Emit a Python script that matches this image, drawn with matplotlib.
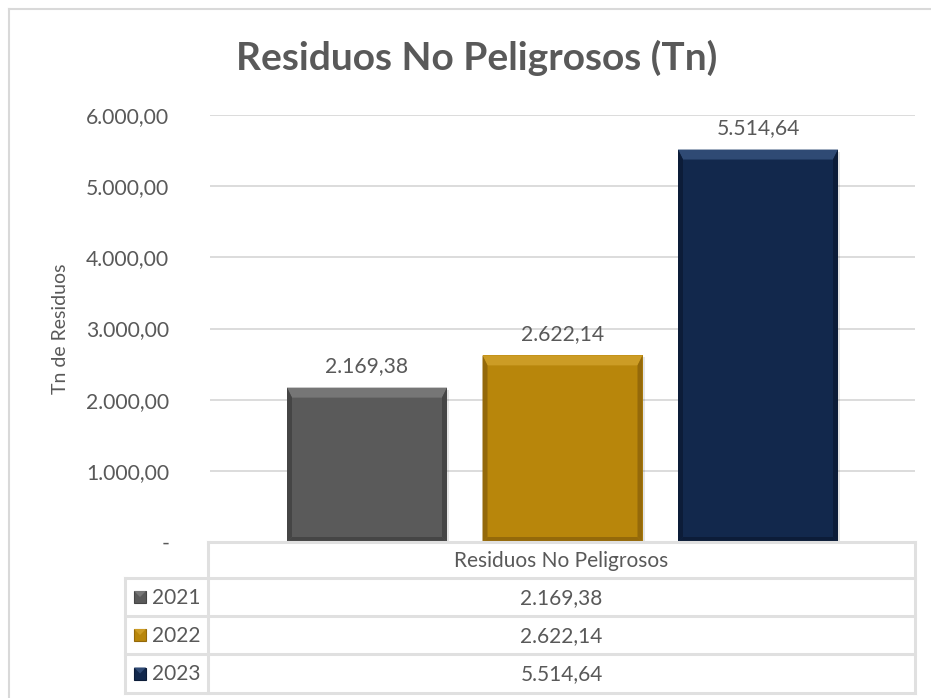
import numpy as np
import matplotlib.pyplot as plt
from matplotlib.patches import Polygon, Rectangle

plt.rcParams['font.family'] = ['Lato', 'DejaVu Sans']

title = 'Residuos No Peligrosos (Tn)'
category = 'Residuos No Peligrosos'
years = ['2021', '2022', '2023']
values = [2169.38, 2622.14, 5514.64]
yticks = [0, 1000, 2000, 3000, 4000, 5000, 6000]

face = ['#5a5a5a', '#b8860b', '#12284c']
light = ['#767676', '#cc9c25', '#2f4a74']
dark = ['#454545', '#94690a', '#0c1c38']

TEXT = '#595959'
GRID = '#d9d9d9'
W, H = 931, 698


def fmt(v, dec=2):
    s = f'{v:,.{dec}f}'
    return s.replace(',', 'X').replace('.', ',').replace('X', '.')


fig = plt.figure(figsize=(W / 100, H / 100), dpi=100, facecolor='white')

# full-figure overlay in pixel units for frame, table and bevels
ov = fig.add_axes([0, 0, 1, 1], zorder=3)
ov.set_xlim(0, W)
ov.set_ylim(H, 0)
ov.axis('off')
ov.patch.set_alpha(0)

left, right, top, bottom = 210, 915, 115, 542
ax = fig.add_axes([left / W, 1 - bottom / H, (right - left) / W, (bottom - top) / H])
ax.set_ylim(0, 6000)
ax.set_xlim(-0.5, 0.5)
ax.set_yticks(yticks)
ax.set_yticklabels(['-' if t == 0 else fmt(t) for t in yticks], color=TEXT, fontsize=15.2)
ax.tick_params(axis='y', length=0, pad=29.5)
ax.set_xticks([])
for s in ax.spines.values():
    s.set_visible(False)
ax.grid(axis='y', color=GRID, linewidth=1.3)
ax.set_axisbelow(True)
ax.set_ylabel('Tn de Residuos', color=TEXT, fontsize=14)
ax.yaxis.set_label_coords(-141 / (right - left), 0.5)

bar_w = 160 / (right - left)
step = 195.5 / (right - left)
xs = (np.arange(len(values)) - 1) * step
bars = ax.bar(xs, values, width=bar_w, color=face, zorder=2)

to_px = ax.transData + ov.transData.inverted()
bev_top, bev_side = 10, 5
for i, b in enumerate(bars):
    (x0, y0), (x1, y1) = to_px.transform([(b.get_x(), 0), (b.get_x() + b.get_width(), b.get_height())])
    # soft shadow to the right and below
    ov.add_patch(Rectangle((x0 + 2, y1 + 2), x1 - x0, y0 - y1, facecolor='black', alpha=0.10,
                           edgecolor='none', zorder=0.5))
    ov.add_patch(Rectangle((x0, y1), x1 - x0, y0 - y1, facecolor=face[i], edgecolor='none', zorder=1))
    # y1 is the top edge in pixel coords (smaller), y0 is the baseline
    ov.add_patch(Polygon([(x0, y1), (x1, y1), (x1 - bev_side, y1 + bev_top), (x0 + bev_side, y1 + bev_top)],
                         closed=True, facecolor=light[i], edgecolor='none', zorder=2))
    ov.add_patch(Polygon([(x0, y1), (x0 + bev_side, y1 + bev_top), (x0 + bev_side, y0 - bev_side), (x0, y0)],
                         closed=True, facecolor=dark[i], edgecolor='none', zorder=2))
    ov.add_patch(Polygon([(x1, y1), (x1 - bev_side, y1 + bev_top), (x1 - bev_side, y0 - bev_side), (x1, y0)],
                         closed=True, facecolor=dark[i], edgecolor='none', zorder=2))
    ov.add_patch(Polygon([(x0, y0), (x0 + bev_side, y0 - bev_side), (x1 - bev_side, y0 - bev_side), (x1, y0)],
                         closed=True, facecolor=dark[i], edgecolor='none', zorder=2))
    ax.annotate(fmt(values[i]), (b.get_x() + b.get_width() / 2, b.get_height()),
                xytext=(0, 8), textcoords='offset points', ha='center', va='bottom',
                color=TEXT, fontsize=15.2)

fig.text(477 / W, 1 - 58 / H, title, ha='center', va='center', fontsize=28,
         fontweight='bold', color=TEXT)

# chart frame
ov.plot([9, 9], [H, 9], color=GRID, lw=1.5)
ov.plot([9, W], [9, 9], color=GRID, lw=1.5)

# data table below the plot
tl, tr = 125, 915
hdr = (542, 578)
rows = [(578, 616), (616, 654), (654, 693)]
lc = 208
tkw = dict(color='#e0e0e0', lw=2.2, solid_capstyle='projecting')
ov.plot([lc, tr], [hdr[0], hdr[0]], **tkw)
ov.plot([lc, lc], [hdr[0], rows[-1][1]], **tkw)
ov.plot([tr, tr], [hdr[0], rows[-1][1]], **tkw)
ov.plot([tl, tl], [rows[0][0], rows[-1][1]], **tkw)
for r0, r1 in rows:
    ov.plot([tl, tr], [r0, r0], **tkw)
ov.plot([tl, tr], [rows[-1][1], rows[-1][1]], **tkw)

ov.text((lc + tr) / 2, sum(hdr) / 2 + 1, category, ha='center', va='center', color=TEXT, fontsize=15)
for i, (r0, r1) in enumerate(rows):
    yc = (r0 + r1) / 2
    ov.add_patch(Rectangle((134, yc - 6), 12, 12, facecolor=face[i], edgecolor=dark[i], lw=0.8))
    ov.add_patch(Polygon([(134, yc - 6), (146, yc - 6), (140, yc)], closed=True,
                         facecolor=light[i], edgecolor='none'))
    ov.text(152, yc + 1, years[i], ha='left', va='center', color=TEXT, fontsize=15)
    ov.text((lc + tr) / 2, yc + 1, fmt(values[i]), ha='center', va='center', color=TEXT, fontsize=15)

fig.savefig('out.png', dpi=100, facecolor='white')
